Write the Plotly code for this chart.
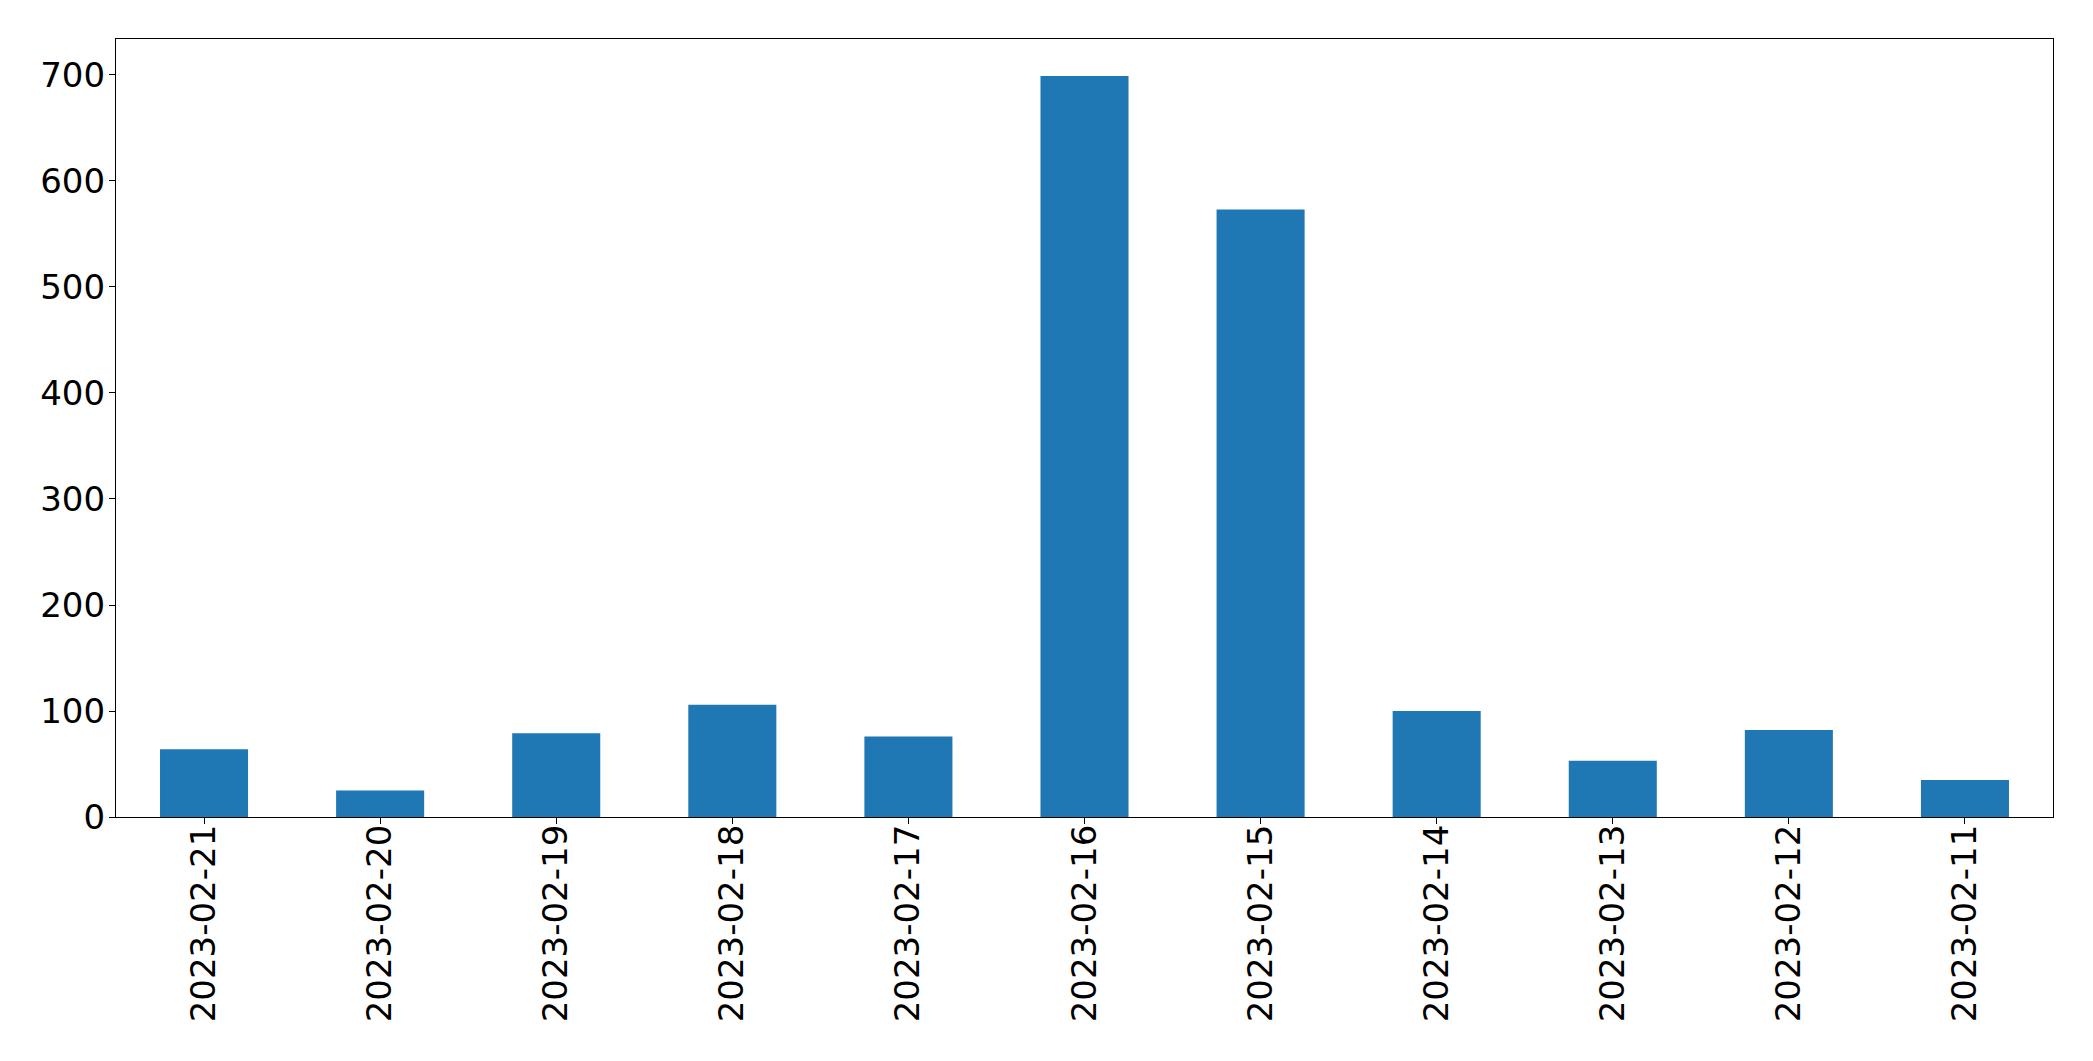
import plotly.graph_objects as go

dates = ["2023-02-21", "2023-02-20", "2023-02-19", "2023-02-18", "2023-02-17",
         "2023-02-16", "2023-02-15", "2023-02-14", "2023-02-13", "2023-02-12",
         "2023-02-11"]
counts = [64, 25, 79, 106, 76, 699, 573, 100, 53, 82, 35]
y_ticks = [0, 100, 200, 300, 400, 500, 600, 700]

fig = go.Figure(go.Bar(x=dates, y=counts, width=0.5, marker_color="#1f77b4",
                       marker_line_width=0))

font = dict(family="DejaVu Sans", size=34, color="black")
fig.update_layout(
    width=2085, height=1053,
    margin=dict(l=108, r=40, t=31, b=244),
    paper_bgcolor="white", plot_bgcolor="white",
    showlegend=False,
    font=font,
)
fig.update_xaxes(type="category", range=[-0.5, len(dates) - 0.5],
                 tickangle=-90, ticks="outside", ticklen=6, tickwidth=1.3,
                 tickcolor="black", showline=True, linecolor="black",
                 linewidth=1.3, mirror=True, showgrid=False, tickfont=font,
                 ticklabelstandoff=-13)
fig.update_yaxes(range=[0, max(counts) * 1.05], tickvals=y_ticks,
                 ticks="outside", ticklen=6, tickwidth=1.3, tickcolor="black",
                 showline=True, linecolor="black", linewidth=1.3, mirror=True,
                 showgrid=False, zeroline=False, tickfont=font,
                 ticklabelstandoff=-3)

fig.write_html("out.html")
